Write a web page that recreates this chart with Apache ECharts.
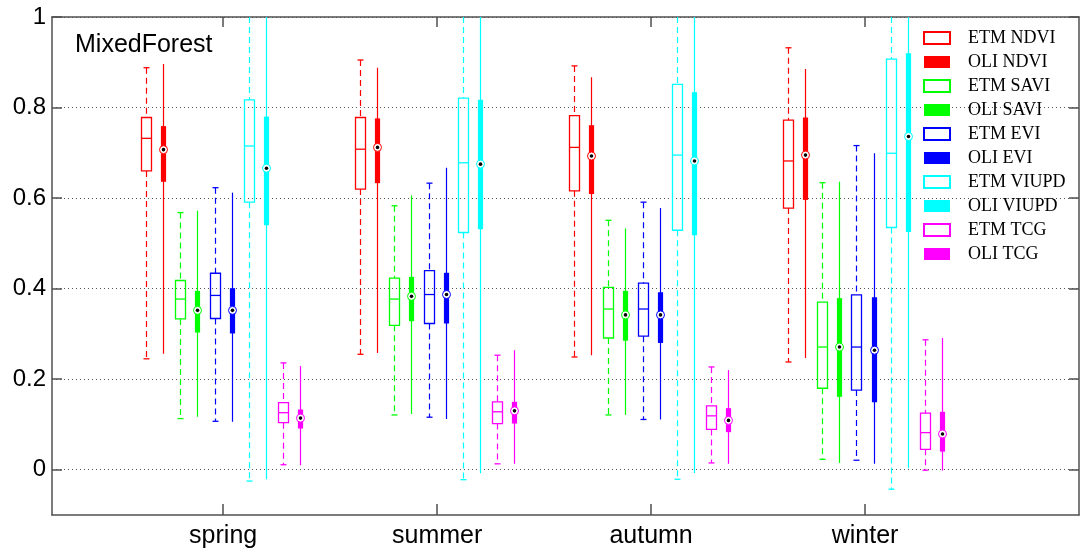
<!DOCTYPE html>
<html>
<head>
<meta charset="utf-8">
<script src="https://cdn.jsdelivr.net/npm/echarts@6/dist/echarts.min.js"></script>
<style>
  html, body { margin: 0; padding: 0; background: #fff; }
  #chart { width: 1080px; height: 553px; }
</style>
</head>
<body>
<div id="chart"></div>
<script>
// Seasons along the x axis and the value ticks on y
const seasons = ['spring', 'summer', 'autumn', 'winter'];
const yTicks = [0, 0.2, 0.4, 0.6, 0.8, 1];

// Box statistics per season: [min, q1, median, q3, max]
const etmNdvi  = [[0.245, 0.660, 0.732, 0.778, 0.888], [0.255, 0.620, 0.708, 0.778, 0.905], [0.249, 0.616, 0.712, 0.782, 0.892], [0.238, 0.578, 0.682, 0.772, 0.932]];
const oliNdvi  = [[0.256, 0.636, 0.707, 0.759, 0.896], [0.258, 0.633, 0.712, 0.776, 0.888], [0.253, 0.609, 0.693, 0.761, 0.867], [0.247, 0.596, 0.695, 0.778, 0.885]];
const etmSavi  = [[0.113, 0.333, 0.377, 0.418, 0.568], [0.121, 0.319, 0.377, 0.423, 0.583], [0.121, 0.291, 0.355, 0.403, 0.551], [0.023, 0.180, 0.271, 0.370, 0.634]];
const oliSavi  = [[0.117, 0.303, 0.352, 0.395, 0.572], [0.123, 0.328, 0.383, 0.426, 0.606], [0.121, 0.285, 0.342, 0.395, 0.533], [0.015, 0.161, 0.271, 0.379, 0.636]];
const etmEvi   = [[0.107, 0.334, 0.385, 0.434, 0.623], [0.116, 0.323, 0.387, 0.440, 0.633], [0.111, 0.295, 0.355, 0.412, 0.591], [0.021, 0.176, 0.271, 0.386, 0.716]];
const oliEvi   = [[0.106, 0.301, 0.352, 0.401, 0.612], [0.112, 0.323, 0.387, 0.435, 0.667], [0.111, 0.280, 0.342, 0.392, 0.578], [0.013, 0.149, 0.264, 0.381, 0.699]];
const etmViupd = [[-0.025, 0.591, 0.715, 0.817, 1.05], [-0.022, 0.524, 0.678, 0.821, 1.05], [-0.021, 0.529, 0.695, 0.851, 1.05], [-0.043, 0.535, 0.699, 0.907, 1.05]];
const oliViupd = [[-0.021, 0.540, 0.666, 0.780, 1.05], [-0.008, 0.531, 0.675, 0.817, 1.05], [-0.007, 0.518, 0.682, 0.834, 1.05], [0.003, 0.525, 0.736, 0.920, 1.05]];
const etmTcg   = [[0.011, 0.104, 0.126, 0.148, 0.236], [0.013, 0.102, 0.128, 0.150, 0.253], [0.015, 0.089, 0.119, 0.141, 0.227], [-0.001, 0.045, 0.082, 0.125, 0.287]];
const oliTcg   = [[0.010, 0.091, 0.114, 0.133, 0.229], [0.013, 0.102, 0.130, 0.150, 0.264], [0.013, 0.083, 0.109, 0.136, 0.220], [-0.002, 0.040, 0.079, 0.128, 0.291]];

// Series in drawing / legend order
const boxSets = [
  { name: 'ETM NDVI',  sensor: 'ETM', color: '#ff0000', stats: etmNdvi },
  { name: 'OLI NDVI',  sensor: 'OLI', color: '#ff0000', stats: oliNdvi },
  { name: 'ETM SAVI',  sensor: 'ETM', color: '#00ff00', stats: etmSavi },
  { name: 'OLI SAVI',  sensor: 'OLI', color: '#00ff00', stats: oliSavi },
  { name: 'ETM EVI',   sensor: 'ETM', color: '#0000ff', stats: etmEvi },
  { name: 'OLI EVI',   sensor: 'OLI', color: '#0000ff', stats: oliEvi },
  { name: 'ETM VIUPD', sensor: 'ETM', color: '#00ffff', stats: etmViupd },
  { name: 'OLI VIUPD', sensor: 'OLI', color: '#00ffff', stats: oliViupd },
  { name: 'ETM TCG',   sensor: 'ETM', color: '#ff00ff', stats: etmTcg },
  { name: 'OLI TCG',   sensor: 'OLI', color: '#ff00ff', stats: oliTcg }
];

const BOX_STEP = 0.08; // spacing of boxes inside one season group

function makeRenderer(k, sensor, color) {
  const off = (k - (boxSets.length - 1) / 2) * BOX_STEP;
  return function (params, api) {
    const x = api.value(0) + off;
    const cs = params.coordSys;
    const top = cs.y, bottom = cs.y + cs.height;
    const pt = v => {
      const p = api.coord([x, v]);
      return [p[0], Math.min(Math.max(p[1], top), bottom)];
    };
    const vMax = api.value(5), vMin = api.value(1);
    const yMin = pt(vMin)[1], yQ1 = pt(api.value(2))[1], yMed = pt(api.value(3))[1],
          yQ3 = pt(api.value(4))[1], yMax = pt(vMax)[1];
    const cx = Math.round(pt(0)[0]) + 0.5;
    const children = [];
    if (sensor === 'ETM') {
      const dash = { stroke: color, lineWidth: 1.2, lineDash: [6, 4] };
      children.push({ type: 'line', shape: { x1: cx, y1: yMax, x2: cx, y2: yQ3 }, style: dash });
      children.push({ type: 'line', shape: { x1: cx, y1: yQ1, x2: cx, y2: yMin }, style: dash });
      if (vMax <= 1) children.push({ type: 'line', shape: { x1: cx - 3, y1: yMax, x2: cx + 3, y2: yMax }, style: { stroke: color, lineWidth: 1.3 } });
      children.push({ type: 'line', shape: { x1: cx - 3, y1: yMin, x2: cx + 3, y2: yMin }, style: { stroke: color, lineWidth: 1.3 } });
      children.push({ type: 'rect', shape: { x: cx - 5, y: yQ3, width: 10, height: yQ1 - yQ3 }, style: { fill: 'none', stroke: color, lineWidth: 1.3 } });
      children.push({ type: 'line', shape: { x1: cx - 5, y1: yMed, x2: cx + 5, y2: yMed }, style: { stroke: color, lineWidth: 1.3 } });
    } else {
      children.push({ type: 'line', shape: { x1: cx, y1: yMax, x2: cx, y2: yMin }, style: { stroke: color, lineWidth: 1.2 } });
      children.push({ type: 'rect', shape: { x: cx - 2.6, y: yQ3, width: 5.2, height: yQ1 - yQ3 }, style: { fill: color } });
      children.push({ type: 'circle', shape: { cx: cx, cy: yMed, r: 4 }, style: { fill: '#fff', stroke: color, lineWidth: 1 } });
      children.push({ type: 'circle', shape: { cx: cx, cy: yMed, r: 1.8 }, style: { fill: '#000' } });
    }
    return { type: 'group', children: children };
  };
}

const series = boxSets.map((b, k) => ({
  name: b.name,
  type: 'custom',
  xAxisIndex: 0,
  yAxisIndex: 0,
  itemStyle: { color: b.color },
  renderItem: makeRenderer(k, b.sensor, b.color),
  data: b.stats.map((s, i) => [i + 1].concat(s))
}));

const axisColor = '#505050';
const sansFont = '"Liberation Sans", Arial, sans-serif';
const seasonPositions = seasons.map((_, i) => i + 1);

const option = {
  animation: false,
  backgroundColor: '#fff',
  title: {
    text: 'MixedForest',
    left: 75, top: 33, padding: 0,
    textStyle: { fontFamily: sansFont, fontSize: 25, fontWeight: 'normal', color: '#000' }
  },
  legend: {
    orient: 'vertical',
    left: 923, top: 29,
    padding: 0,
    itemWidth: 26, itemHeight: 12, itemGap: 6,
    textStyle: { fontFamily: '"Liberation Serif", "Times New Roman", serif', fontSize: 18, lineHeight: 18, color: '#000', padding: [0, 0, 0, 13] },
    data: boxSets.map(b => ({
      name: b.name,
      icon: 'rect',
      itemStyle: b.sensor === 'ETM'
        ? { color: '#fff', borderColor: b.color, borderWidth: 2 }
        : { color: b.color, borderWidth: 0 }
    }))
  },
  grid: { left: 52, right: 1, top: 17, bottom: 38, containLabel: false },
  xAxis: [
    {
      type: 'value', position: 'bottom', min: 0.2, max: 5,
      axisLine: { show: true, onZero: false, lineStyle: { color: axisColor, width: 1.5 } },
      axisTick: { show: true, inside: true, length: 11, customValues: seasonPositions, lineStyle: { color: axisColor, width: 1.5 } },
      axisLabel: {
        show: true, customValues: seasonPositions, margin: 9,
        formatter: v => seasons[Math.round(v) - 1] || '',
        fontFamily: sansFont, fontSize: 25, color: '#000'
      },
      splitLine: { show: false }
    },
    {
      type: 'value', position: 'top', min: 0.2, max: 5,
      axisLine: { show: true, onZero: false, lineStyle: { color: axisColor, width: 1.5 } },
      axisTick: { show: true, inside: true, length: 10, customValues: seasonPositions, lineStyle: { color: axisColor, width: 1.5 } },
      axisLabel: { show: false },
      splitLine: { show: false }
    }
  ],
  yAxis: [
    {
      type: 'value', position: 'left', min: -0.1, max: 1,
      axisLine: { show: true, onZero: false, lineStyle: { color: axisColor, width: 1.5 } },
      axisTick: { show: true, inside: true, length: 10, customValues: yTicks, lineStyle: { color: axisColor, width: 1.5 } },
      axisLabel: {
        show: true, customValues: yTicks, margin: 6,
        formatter: v => String(Math.round(v * 10) / 10),
        fontFamily: sansFont, fontSize: 24, color: '#000'
      },
      splitLine: { show: true, lineStyle: { color: '#555', width: 1, type: [1, 3] } }
    },
    {
      type: 'value', position: 'right', min: -0.1, max: 1,
      axisLine: { show: true, onZero: false, lineStyle: { color: axisColor, width: 1.5 } },
      axisTick: { show: true, inside: true, length: 10, customValues: yTicks, lineStyle: { color: axisColor, width: 1.5 } },
      axisLabel: { show: false },
      splitLine: { show: false }
    }
  ],
  series: series
};

const chart = echarts.init(document.getElementById('chart'), null, { renderer: 'canvas' });
chart.setOption(option);
</script>
</body>
</html>
